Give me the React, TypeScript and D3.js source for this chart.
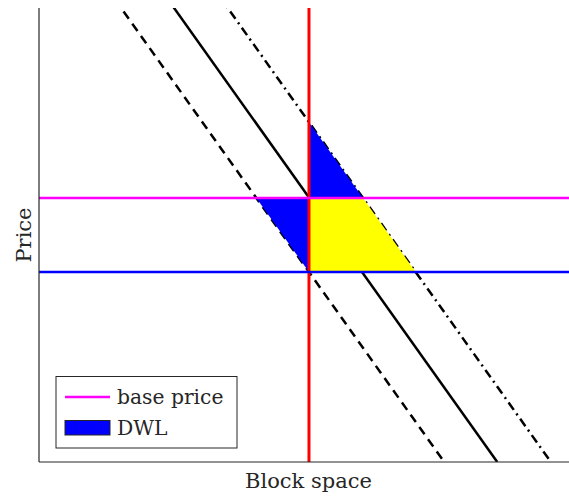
import React from "react";
import * as d3 from "d3";

// Data (abstract units)
const xDomain = [0, 10];
const yDomain = [0, 10];
const demandSlope = 1.64; // price drop per unit of block space
const demandIntercepts = [12.54, 14.18, 15.84]; // dashed (low), solid (base), dash-dot (high)
const demandStyles = ["dashed", "solid", "dashdot"];
const capacity = 5.094; // block size limit
const basePrice = 5.815;
const lowPrice = 4.185;
const legendLabels = ["base price", "DWL"];

const W = 569;
const H = 496;
const M = { left: 39, right: 569, top: 8, bottom: 462 };

export default function App() {
  const x = d3.scaleLinear().domain(xDomain).range([M.left, M.right]);
  const y = d3.scaleLinear().domain(yDomain).range([M.bottom, M.top]);
  const qAt = (a: number, p: number) => (a - p) / demandSlope;
  const pAt = (a: number, q: number) => a - demandSlope * q;

  const line = d3
    .line<[number, number]>()
    .x((d) => x(d[0]))
    .y((d) => y(d[1]));

  const [aLow, , aHigh] = demandIntercepts;

  const yellow: [number, number][] = [
    [capacity, basePrice],
    [qAt(aHigh, basePrice), basePrice],
    [qAt(aHigh, lowPrice), lowPrice],
    [capacity, lowPrice],
  ];
  const blueTop: [number, number][] = [
    [capacity, pAt(aHigh, capacity)],
    [capacity, basePrice],
    [qAt(aHigh, basePrice), basePrice],
  ];
  const blueLeft: [number, number][] = [
    [qAt(aLow, basePrice), basePrice],
    [capacity, basePrice],
    [capacity, lowPrice],
  ];

  const dash: Record<string, string | undefined> = {
    solid: undefined,
    dashed: "9,6",
    dashdot: "9,4.5,2,4.5",
  };

  const font = "DejaVu Serif";

  return (
    <svg
      width={W}
      height={H}
      style={{ position: "absolute", left: 0, top: 0, background: "#fff" }}
    >
      <defs>
        <clipPath id="plot">
          <rect x={M.left} y={M.top} width={M.right - M.left} height={M.bottom - M.top} />
        </clipPath>
      </defs>
      <g clipPath="url(#plot)">
        {demandIntercepts.map((a, i) => (
          <path
            key={i}
            d={line([
              [qAt(a, 11), 11],
              [qAt(a, 0), 0],
            ])!}
            fill="none"
            stroke="#000"
            strokeWidth={2.5}
            strokeDasharray={dash[demandStyles[i]]}
          />
        ))}
        <path d={line(yellow)! + "Z"} fill="#ffff00" stroke="none" />
        <path d={line(blueTop)! + "Z"} fill="#0000ff" stroke="none" />
        <path d={line(blueLeft)! + "Z"} fill="#0000ff" stroke="none" />
        <line
          x1={x(capacity)}
          x2={x(capacity)}
          y1={y(yDomain[1])}
          y2={y(yDomain[0])}
          stroke="#ff0000"
          strokeWidth={3}
        />
        <line
          x1={x(xDomain[0])}
          x2={x(xDomain[1])}
          y1={y(basePrice)}
          y2={y(basePrice)}
          stroke="#ff00ff"
          strokeWidth={2.5}
        />
        <line
          x1={x(xDomain[0])}
          x2={x(xDomain[1])}
          y1={y(lowPrice)}
          y2={y(lowPrice)}
          stroke="#0000ff"
          strokeWidth={2.5}
        />
      </g>
      {/* axes */}
      <line x1={M.left} x2={M.left} y1={M.top} y2={M.bottom} stroke="#262626" strokeWidth={1.2} />
      <line x1={M.left} x2={M.right} y1={M.bottom} y2={M.bottom} stroke="#262626" strokeWidth={1.2} />
      {/* labels */}
      <text x={308.5} y={488} textAnchor="middle" fontFamily={font} fontSize={21} fill="#262626">
        Block space
      </text>
      <text
        transform="translate(31,235) rotate(-90)"
        textAnchor="middle"
        fontFamily={font}
        fontSize={21}
        fill="#262626"
      >
        Price
      </text>
      {/* legend */}
      <rect x={56} y={376.5} width={181} height={71.5} fill="#fff" stroke="#262626" strokeWidth={1} />
      <line x1={65} x2={110} y1={397} y2={397} stroke="#ff00ff" strokeWidth={2.5} />
      <rect x={65} y={420.5} width={45} height={14.5} fill="#0000ff" stroke="#262626" strokeWidth={1} />
      <text x={117} y={404} fontFamily={font} fontSize={20.3} fill="#262626">
        {legendLabels[0]}
      </text>
      <text x={117} y={435} fontFamily={font} fontSize={20.3} fill="#262626">
        {legendLabels[1]}
      </text>
    </svg>
  );
}
